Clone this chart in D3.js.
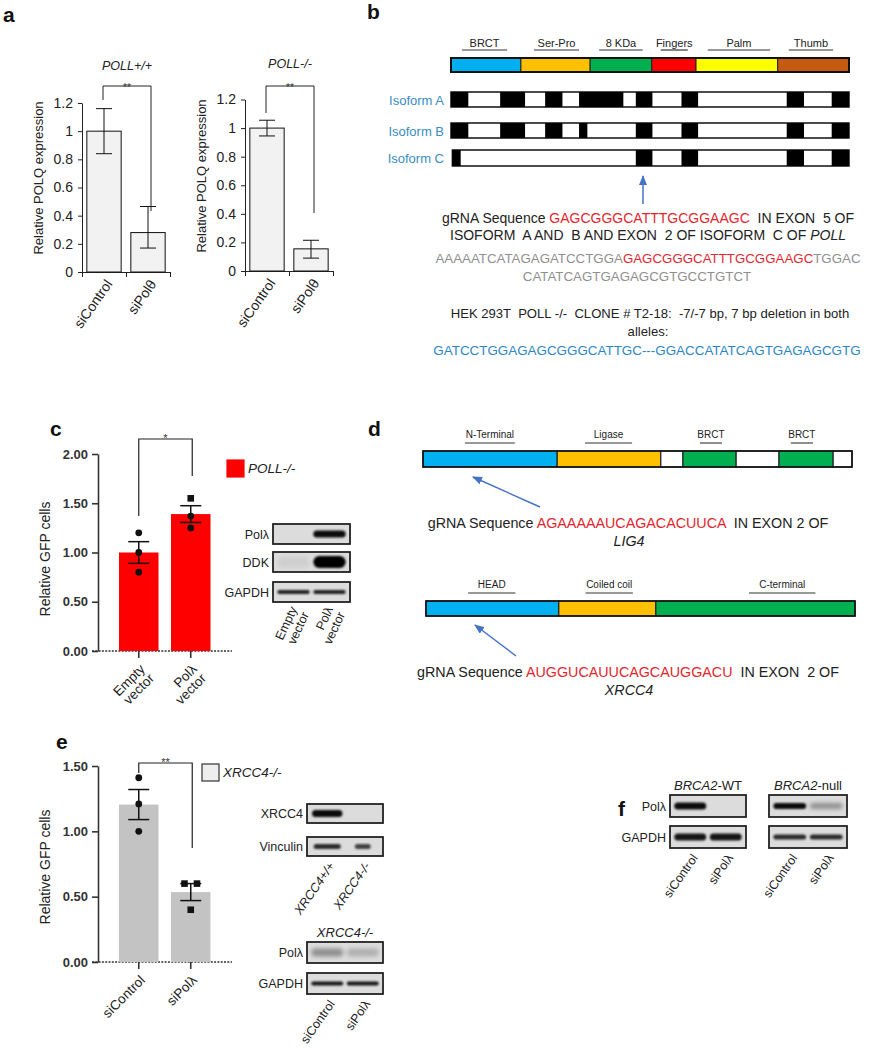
<!DOCTYPE html>
<html><head><meta charset="utf-8">
<script src="https://cdn.jsdelivr.net/npm/d3@7"></script>
<style>body{margin:0;background:#fff}</style>
</head><body>
<script>
// ================= DATA =================
// Panel a
const aCategories = ["siControl", "siPolθ"];
const aTicks = [0, 0.2, 0.4, 0.6, 0.8, 1, 1.2];
const aTitles = ["POLL+/+", "POLL-/-"];
const aLeftMeans = [1.0, 0.28];
const aLeftLow = [0.84, 0.17];
const aLeftHigh = [1.16, 0.465];
const aRightMeans = [1.0, 0.155];
const aRightLow = [0.945, 0.09];
const aRightHigh = [1.055, 0.215];

// Panel b (Pol lambda, 575 aa)
const polDomainNames = ["BRCT", "Ser-Pro", "8 KDa", "Fingers", "Palm", "Thumb"];
const polDomainBounds = [0, 101, 201, 290, 354, 472, 575];
const polDomainColors = ["#00b0f0", "#ffc000", "#00b050", "#ff0000", "#ffff00", "#c55a11"];
const polLabelSpans = [[16, 81], [120, 185], [214, 277], [303, 342], [371, 461], [488, 552]];
const isoformNames = ["Isoform A", "Isoform B", "Isoform C"];
const isoformStarts = [0, 0, 2];
const isoAExons = [[0, 25], [71, 107], [136, 161], [185, 249], [267, 291], [333, 357], [485, 510], [550, 575]];
const isoBExons = [[0, 25], [71, 107], [136, 161], [185, 197], [267, 291], [333, 357], [485, 510], [550, 575]];
const isoCExons = [[2, 14], [267, 291], [333, 357], [485, 510], [550, 575]];
const bLine1 = ["gRNA Sequence ", "GAGCGGGCATTTGCGGAAGC", "  IN EXON  5 OF"];
const bLine2 = ["ISOFORM  A AND  B AND EXON  2 OF ISOFORM  C OF ", "POLL"];
const bLine3 = ["AAAAATCATAGAGATCCTGGA", "GAGCGGGCATTTGCGGAAGC", "TGGAC"];
const bLine4 = "CATATCAGTGAGAGCGTGCCTGTCT";
const bLine5 = "HEK 293T  POLL -/-  CLONE # T2-18:  -7/-7 bp, 7 bp deletion in both";
const bLine6 = "alleles:";
const bLine7 = "GATCCTGGAGAGCGGGCATTGC---GGACCATATCAGTGAGAGCGTG";

// Panel c
const cCategories = ["Empty vector", "Polλ vector"];
const cTicks = [0, 0.5, 1, 1.5, 2];
const cMeans = [1.00, 1.39];
const cSem = [0.11, 0.085];
const cPoints = [[1.20, 1.00, 0.80], [1.55, 1.37, 1.25]];
const cShapes = [["circle", "circle", "circle"], ["square", "circle", "circle"]];
const cLegend = "POLL-/-";
const cBlotRows = ["Polλ", "DDK", "GAPDH"];
const cBlotIntensity = [[0.0, 0.95], [0.05, 1.0], [0.85, 0.85]];

// Panel d
const lig4Bounds = [0, 285, 505, 552, 665, 756, 871, 911];
const lig4Colors = ["#00b0f0", "#ffc000", "#ffffff", "#00b050", "#ffffff", "#00b050", "#ffffff"];
const lig4LabelNames = ["N-Terminal", "Ligase", "BRCT", "BRCT"];
const lig4LabelSpans = [[89, 195], [344, 444], [588, 635], [781, 828]];
const xrcc4Bounds = [0, 104, 180, 336];
const xrcc4Colors = ["#00b0f0", "#ffc000", "#00b050"];
const xrcc4LabelNames = ["HEAD", "Coiled coil", "C-terminal"];
const xrcc4LabelSpans = [[33, 70], [125, 162], [253, 305]];
const dLig4Text = ["gRNA Sequence ", "AGAAAAAUCAGACACUUCA", "  IN EXON 2 OF", "LIG4"];
const dXrcc4Text = ["gRNA Sequence ", "AUGGUCAUUCAGCAUGGACU", "  IN EXON  2 OF", "XRCC4"];

// Panel e
const eCategories = ["siControl", "siPolλ"];
const eTicks = [0, 0.5, 1, 1.5];
const eMeans = [1.205, 0.535];
const eSem = [0.115, 0.065];
const ePoints = [[1.41, 1.21, 1.00], [0.60, 0.60, 0.40]];
const eShapes = [["circle", "circle", "circle"], ["square", "square", "square"]];
const eLegend = "XRCC4-/-";
const eBlot1Rows = ["XRCC4", "Vinculin"];
const eBlot1Lanes = ["XRCC4+/+", "XRCC4-/-"];
const eBlot1Intensity = [[0.95, 0.0], [0.8, 0.7]];
const eBlot2Rows = ["Polλ", "GAPDH"];
const eBlot2Lanes = ["siControl", "siPolλ"];
const eBlot2Intensity = [[0.35, 0.2], [0.9, 0.9]];

// Panel f
const fGroups = ["WT", "null"];
const fRows = ["Polλ", "GAPDH"];
const fLanes = ["siControl", "siPolλ"];
const fIntensity = [
  [[0.95, 0.0], [0.9, 0.9]],
  [[0.95, 0.35], [0.8, 0.8]]
];

// ================= DRAW =================
const FONT = "'Liberation Sans', Arial, Helvetica, sans-serif";
const svg = d3.select("body").append("svg").attr("width", 877).attr("height", 1050)
  .style("font-family", FONT).style("background", "#fff");
const defs = svg.append("defs");
defs.append("filter").attr("id", "blur").attr("x", "-50%").attr("y", "-200%").attr("width", "200%").attr("height", "500%")
  .append("feGaussianBlur").attr("stdDeviation", 1.1);
defs.append("filter").attr("id", "blur2").attr("x", "-50%").attr("y", "-200%").attr("width", "200%").attr("height", "500%")
  .append("feGaussianBlur").attr("stdDeviation", 2);
defs.append("marker").attr("id", "arr").attr("viewBox", "0 0 10 8").attr("refX", 9).attr("refY", 4)
  .attr("markerWidth", 10).attr("markerHeight", 8).attr("markerUnits", "userSpaceOnUse").attr("orient", "auto")
  .append("path").attr("d", "M0,0L10,4L0,8z").attr("fill", "#4472c4");

function panelLabel(t, x, y) {
  svg.append("text").attr("x", x).attr("y", y).attr("font-size", 21).attr("font-weight", "bold").attr("fill", "#111").text(t);
}
panelLabel("a", 3, 22); panelLabel("b", 367, 19); panelLabel("c", 50, 436);
panelLabel("d", 368, 436); panelLabel("e", 56, 749); panelLabel("f", 618, 816);

// ---------- Panel a ----------
function panelA(cfg) {
  const g = svg.append("g");
  const y = d3.scaleLinear().domain([0, 1.2]).range([cfg.yb, cfg.yt]);
  const x = d3.scaleBand().domain(aCategories).range([cfg.xl, cfg.xr]).paddingInner(0.22).paddingOuter(0.11);
  g.append("g").attr("transform", `translate(${cfg.xl},0)`)
    .call(d3.axisLeft(y).tickValues(aTicks).tickSize(4).tickSizeOuter(0).tickPadding(5).tickFormat(d => String(+d.toFixed(1))))
    .call(s => { s.selectAll("text").attr("font-size", 14).attr("fill", "#222").style("font-family", FONT);
      s.selectAll("line,path").attr("stroke", "#222"); });
  g.append("g").attr("transform", `translate(0,${cfg.yb})`)
    .call(d3.axisBottom(d3.scaleLinear().domain([0, 2]).range([cfg.xl, cfg.xr])).tickValues([0, 1, 2]).tickSize(5).tickSizeOuter(0).tickFormat(""))
    .call(s => s.selectAll("line,path").attr("stroke", "#222"));
  g.selectAll("rect.bar").data(cfg.means).join("rect").attr("class", "bar")
    .attr("x", (d, i) => x(aCategories[i])).attr("width", x.bandwidth())
    .attr("y", d => y(d)).attr("height", d => y(0) - y(d))
    .attr("fill", "#f2f2f2").attr("stroke", "#111").attr("stroke-width", 1);
  cfg.means.forEach((m, i) => {
    const cx = x(aCategories[i]) + x.bandwidth() / 2;
    g.append("line").attr("x1", cx).attr("x2", cx).attr("y1", y(cfg.high[i])).attr("y2", y(cfg.low[i])).attr("stroke", "#111");
    [cfg.high[i], cfg.low[i]].forEach(v => g.append("line").attr("x1", cx - 8).attr("x2", cx + 8).attr("y1", y(v)).attr("y2", y(v)).attr("stroke", "#111"));
    g.append("text").attr("transform", `translate(${cx + 9},${cfg.yb + 12}) rotate(-55)`)
      .attr("text-anchor", "end").attr("font-size", 14).attr("fill", "#222").text(aCategories[i]);
  });
  g.append("text").attr("transform", `translate(${cfg.ylx},${cfg.ylc}) rotate(-90)`)
    .attr("text-anchor", "middle").attr("font-size", 13).attr("fill", "#222").text("Relative POLQ expression");
  const c1 = x(aCategories[0]) + x.bandwidth() / 2 - 1, c2 = x(aCategories[1]) + x.bandwidth() / 2 + 3;
  g.append("path").attr("d", `M${c1},${cfg.br[1]}V${cfg.br[0]}H${c2}V${cfg.br[2]}`).attr("fill", "none").attr("stroke", "#222");
  g.append("text").attr("x", (c1 + c2) / 2).attr("y", cfg.br[0] + 5).attr("text-anchor", "middle").attr("font-size", 10).attr("fill", "#333").text("**");
  g.append("text").attr("x", (cfg.xl + cfg.xr) / 2 + 1).attr("y", cfg.ty).attr("text-anchor", "middle")
    .attr("font-size", 12.5).attr("font-style", "italic").attr("fill", "#222").text(cfg.title);
}
panelA({ xl: 82, xr: 170, yb: 272, yt: 103, means: aLeftMeans, low: aLeftLow, high: aLeftHigh, ylx: 43, ylc: 178, br: [86, 100, 211], title: aTitles[0], ty: 70 });
panelA({ xl: 245, xr: 333, yb: 271, yt: 99.5, means: aRightMeans, low: aRightLow, high: aRightHigh, ylx: 206, ylc: 176, br: [86, 113, 213], title: aTitles[1], ty: 68 });

// ---------- Panel b ----------
(function () {
  const g = svg.append("g");
  const x = d3.scaleLinear().domain([0, 575]).range([451, 849]);
  polDomainNames.forEach((n, i) => {
    const [a, b] = polLabelSpans[i];
    g.append("line").attr("x1", x(a)).attr("x2", x(b)).attr("y1", 50).attr("y2", 50).attr("stroke", "#333").attr("stroke-width", 1.2);
    g.append("text").attr("x", x((a + b) / 2)).attr("y", 47).attr("text-anchor", "middle").attr("font-size", 11).attr("fill", "#222").text(n);
  });
  g.selectAll("rect.dom").data(polDomainColors).join("rect").attr("class", "dom")
    .attr("x", (d, i) => x(polDomainBounds[i])).attr("width", (d, i) => x(polDomainBounds[i + 1]) - x(polDomainBounds[i]))
    .attr("y", 58).attr("height", 14).attr("fill", d => d).attr("stroke", "#222").attr("stroke-width", 1);
  g.append("rect").attr("x", x(0)).attr("width", x(575) - x(0)).attr("y", 58).attr("height", 14).attr("fill", "none").attr("stroke", "#111").attr("stroke-width", 2);
  const exons = [isoAExons, isoBExons, isoCExons];
  const rowsY = [92, 123, 150], rowsH = [15, 15, 16];
  isoformNames.forEach((n, i) => {
    g.append("rect").attr("x", x(isoformStarts[i])).attr("width", x(575) - x(isoformStarts[i])).attr("y", rowsY[i]).attr("height", rowsH[i])
      .attr("fill", "#fff").attr("stroke", "#111").attr("stroke-width", 1.5);
    g.selectAll(null).data(exons[i]).join("rect").attr("x", d => x(d[0])).attr("width", d => x(d[1]) - x(d[0]))
      .attr("y", rowsY[i]).attr("height", rowsH[i]).attr("fill", "#000");
    g.append("text").attr("x", 444).attr("y", rowsY[i] + rowsH[i] / 2 + 5).attr("text-anchor", "end").attr("font-size", 13).attr("fill", "#3a8cc4").text(n);
  });
  g.append("line").attr("x1", 643).attr("x2", 643).attr("y1", 204).attr("y2", 176).attr("stroke", "#4472c4").attr("stroke-width", 1.5).attr("marker-end", "url(#arr)");
  const RED = "#e3262e", GRAY = "#8f8f8f";
  function mixed(parts, colors, styles, xx, yy, anchor, fs) {
    const t = g.append("text").attr("x", xx).attr("y", yy).attr("text-anchor", anchor).attr("font-size", fs).style("white-space", "pre");
    parts.forEach((p, i) => t.append("tspan").attr("fill", colors[i]).attr("font-style", styles[i]).text(p));
  }
  mixed(bLine1, ["#222", RED, "#222"], ["normal", "normal", "normal"], 648, 223, "middle", 14);
  mixed(bLine2, ["#222", "#222"], ["normal", "italic"], 648, 240, "middle", 14);
  mixed(bLine3, [GRAY, RED, GRAY], ["normal", "normal", "normal"], 648, 263, "middle", 13.3);
  mixed([bLine4], [GRAY], ["normal"], 637, 281, "middle", 13.3);
  mixed([bLine5], ["#222"], ["normal"], 650, 318, "middle", 13.1);
  mixed([bLine6], ["#222"], ["normal"], 648, 336, "middle", 13.1);
  mixed([bLine7], ["#2c86c4"], ["normal"], 647, 355, "middle", 13.4);
})();

// ---------- GFP bar panels (c, e) ----------
function gfpPanel(cfg) {
  const g = svg.append("g");
  const y = d3.scaleLinear().domain([0, cfg.max]).range([cfg.yb, cfg.yt]);
  const x = d3.scaleBand().domain(cfg.cats).range([98, 231.5]).paddingInner(0.24).paddingOuter(0.404);
  g.append("line").attr("x1", 92).attr("x2", 232).attr("y1", cfg.yb).attr("y2", cfg.yb)
    .attr("stroke", "#333").attr("stroke-width", 1.6).attr("stroke-dasharray", "2,1.3");
  g.selectAll("rect.bar").data(cfg.means).join("rect").attr("class", "bar")
    .attr("x", (d, i) => x(cfg.cats[i])).attr("width", x.bandwidth())
    .attr("y", d => y(d)).attr("height", d => y(0) - y(d)).attr("fill", cfg.fill);
  g.append("g").attr("transform", "translate(98,0)")
    .call(d3.axisLeft(y).tickValues(cfg.ticks).tickSize(6).tickSizeOuter(0).tickPadding(4).tickFormat(d3.format(".2f")))
    .call(s => { s.selectAll("text").attr("font-size", 13).attr("font-weight", "bold").attr("fill", "#333").style("font-family", FONT);
      s.selectAll("line,path").attr("stroke", "#333").attr("stroke-width", 1.6); });
  cfg.cats.forEach((c, i) => {
    const cx = x(c) + x.bandwidth() / 2;
    g.append("line").attr("x1", cx).attr("x2", cx).attr("y1", cfg.yb).attr("y2", cfg.yb + 7).attr("stroke", "#333").attr("stroke-width", 1.6);
    const m = cfg.means[i], s = cfg.sem[i];
    g.append("line").attr("x1", cx).attr("x2", cx).attr("y1", y(m + s)).attr("y2", y(m - s)).attr("stroke", "#111").attr("stroke-width", 1.5);
    [m + s, m - s].forEach(v => g.append("line").attr("x1", cx - 10.5).attr("x2", cx + 10.5).attr("y1", y(v)).attr("y2", y(v)).attr("stroke", "#111").attr("stroke-width", 1.5));
    const pts = cfg.points[i];
    pts.forEach((v, j) => {
      const same = pts.filter(p => p === v).length;
      const k = pts.slice(0, j).filter(p => p === v).length;
      const px = cx + (same > 1 ? (k - (same - 1) / 2) * 12.5 : 0);
      if (cfg.shapes[i][j] === "square") g.append("rect").attr("x", px - 3.3).attr("y", y(v) - 3.3).attr("width", 6.6).attr("height", 6.6).attr("fill", "#111");
      else g.append("circle").attr("cx", px).attr("cy", y(v)).attr("r", 3.4).attr("fill", "#111");
    });
    const lab = g.append("text").attr("transform", `translate(${cx + 7},${cfg.yb + 19}) rotate(-45)`)
      .attr("text-anchor", "end").attr("font-size", 13.5).attr("fill", "#222");
    const words = cfg.lines ? c.split(" ") : [c];
    words.forEach((w, k) => lab.append("tspan").attr("x", 0).attr("dy", k === 0 ? 0 : 13).text(w));
  });
  g.append("text").attr("transform", `translate(50,${cfg.ylc}) rotate(-90)`)
    .attr("text-anchor", "middle").attr("font-size", 14).attr("fill", "#222").text("Relative GFP cells");
  const c1 = x.bandwidth() / 2 + x(cfg.cats[0]), c2 = x.bandwidth() / 2 + x(cfg.cats[1]) + 1.5;
  g.append("path").attr("d", `M${c1},${cfg.br[1]}V${cfg.br[0]}H${c2}V${cfg.br[2]}`).attr("fill", "none").attr("stroke", "#222").attr("stroke-width", 1.2);
  g.append("text").attr("x", (c1 + c2) / 2).attr("y", cfg.br[0] + 3).attr("text-anchor", "middle").attr("font-size", 11).attr("fill", "#333").text(cfg.star);
  g.append("rect").attr("x", cfg.lg[0]).attr("y", cfg.lg[1]).attr("width", 17).attr("height", 17)
    .attr("fill", cfg.legFill).attr("stroke", cfg.legStroke).attr("stroke-width", 1.2);
  g.append("text").attr("x", cfg.lg[0] + 21).attr("y", cfg.lg[1] + 13).attr("font-size", 13.5).attr("font-style", "italic").attr("fill", "#222").text(cfg.legend);
}
gfpPanel({ cats: cCategories, lines: true, max: 2, ticks: cTicks, yb: 651, yt: 454, ylc: 559, means: cMeans, sem: cSem, points: cPoints, shapes: cShapes,
  fill: "#ff0000", br: [439, 516, 476], star: "*", lg: [227, 460], legFill: "#ff0000", legStroke: "#ff0000", legend: cLegend });
gfpPanel({ cats: eCategories, lines: false, max: 1.5, ticks: eTicks, yb: 962, yt: 766, ylc: 867, means: eMeans, sem: eSem, points: ePoints, shapes: eShapes,
  fill: "#c3c3c3", br: [763, 773, 848], star: "**", lg: [202, 764], legFill: "#eeeeee", legStroke: "#333", legend: eLegend });

// ---------- Western blots ----------
function blot(cfg) {
  const g = svg.append("g");
  const lanes = d3.scaleBand().domain(d3.range(cfg.intensity[0].length)).range([cfg.x, cfg.x + cfg.w]).paddingInner(0.1).paddingOuter(0.12);
  cfg.rows.forEach((r, i) => {
    const y0 = cfg.ys[i];
    g.append("rect").attr("x", cfg.x).attr("y", y0).attr("width", cfg.w).attr("height", cfg.h).attr("fill", "#dcdcdc");
    cfg.intensity[i].forEach((v, j) => {
      if (v <= 0) return;
      const th = cfg.thick[i];
      const bw = lanes.bandwidth() * (cfg.widthF ? cfg.widthF[i][j] : 1);
      const bx = lanes(j) + (lanes.bandwidth() - bw) / 2;
      g.append("rect").attr("x", bx).attr("y", y0 + cfg.h / 2 - th / 2).attr("width", bw).attr("height", th)
        .attr("rx", th / 2).attr("fill", "#000").attr("opacity", v).attr("filter", v < 0.5 ? "url(#blur2)" : "url(#blur)");
    });
    g.append("rect").attr("x", cfg.x).attr("y", y0).attr("width", cfg.w).attr("height", cfg.h).attr("fill", "none").attr("stroke", "#222").attr("stroke-width", 1.8);
    if (cfg.showRowLabels !== false)
      g.append("text").attr("x", cfg.x - 4).attr("y", y0 + cfg.h / 2 + 4.5).attr("text-anchor", "end").attr("font-size", 12.5).attr("fill", "#222").text(r);
  });
  if (cfg.laneLabels) {
    const yb = cfg.ys[cfg.ys.length - 1] + cfg.h;
    cfg.laneLabels.forEach((l, j) => {
      const cx = lanes(j) + lanes.bandwidth() / 2;
      const t = g.append("text").attr("transform", `translate(${cx + cfg.lx},${yb + cfg.ly}) rotate(${cfg.rot})`)
        .attr("text-anchor", "end").attr("font-size", 12.5).attr("fill", "#222");
      if (cfg.laneItalic) {
        t.append("tspan").attr("font-style", "italic").text(l);
      } else {
        const words = cfg.split ? l.split(" ") : [l];
        words.forEach((w, k) => t.append("tspan").attr("x", 0).attr("dy", k === 0 ? 0 : 13).text(w));
      }
    });
  }
  if (cfg.header) {
    const t = g.append("text").attr("x", cfg.x + cfg.w / 2).attr("y", cfg.ys[0] - 5).attr("text-anchor", "middle").attr("font-size", 13).attr("fill", "#222");
    cfg.header.forEach((p, k) => t.append("tspan").attr("font-style", k === 0 ? "italic" : "normal").text(p));
  }
}
blot({ x: 273, w: 77, h: 20, ys: [524, 552, 582], rows: cBlotRows, intensity: cBlotIntensity, thick: [7, 12, 4],
  laneLabels: cCategories, split: true, rot: -65, lx: 4, ly: 7 });
blot({ x: 307, w: 76, h: 19, ys: [804, 837], rows: eBlot1Rows, intensity: eBlot1Intensity, thick: [7, 5], widthF: [[0.95, 1], [0.85, 0.5]],
  laneLabels: eBlot1Lanes, laneItalic: true, rot: -55, lx: 8, ly: 10 });
blot({ x: 307, w: 76, h: 21, ys: [942, 973], rows: eBlot2Rows, intensity: eBlot2Intensity, thick: [8, 4],
  laneLabels: eBlot2Lanes, rot: -55, lx: 8, ly: 10, header: ["XRCC4-/-"] });
fGroups.forEach((grp, gi) => {
  blot({ x: gi === 0 ? 670 : 769, w: gi === 0 ? 76 : 78, h: 22, ys: [795, 826], rows: fRows, intensity: fIntensity[gi], thick: gi === 0 ? [7, 7] : [6, 5],
    showRowLabels: gi === 0, laneLabels: fLanes, rot: -55, lx: 8, ly: 10, header: ["BRCA2", "-" + grp] });
});

// ---------- Panel d ----------
(function () {
  const g = svg.append("g");
  const RED = "#e3262e";
  function gene(bounds, colors, names, spans, x0, x1, yBar, h) {
    const x = d3.scaleLinear().domain([0, bounds[bounds.length - 1]]).range([x0, x1]);
    names.forEach((n, i) => {
      const [a, b] = spans[i];
      g.append("line").attr("x1", x(a)).attr("x2", x(b)).attr("y1", yBar - 8).attr("y2", yBar - 8).attr("stroke", "#333").attr("stroke-width", 1.1);
      g.append("text").attr("x", x((a + b) / 2)).attr("y", yBar - 13).attr("text-anchor", "middle").attr("font-size", 10).attr("fill", "#222").text(n);
    });
    g.selectAll(null).data(colors).join("rect")
      .attr("x", (d, i) => x(bounds[i])).attr("width", (d, i) => x(bounds[i + 1]) - x(bounds[i]))
      .attr("y", yBar).attr("height", h).attr("fill", d => d).attr("stroke", "#222").attr("stroke-width", 1.2);
    g.append("rect").attr("x", x0).attr("width", x1 - x0).attr("y", yBar).attr("height", h).attr("fill", "none").attr("stroke", "#111").attr("stroke-width", 1.6);
  }
  gene(lig4Bounds, lig4Colors, lig4LabelNames, lig4LabelSpans, 423, 852, 451, 16);
  gene(xrcc4Bounds, xrcc4Colors, xrcc4LabelNames, xrcc4LabelSpans, 426, 855, 601, 15);
  g.append("line").attr("x1", 540).attr("y1", 507).attr("x2", 473).attr("y2", 477).attr("stroke", "#4472c4").attr("stroke-width", 1.4).attr("marker-end", "url(#arr)");
  g.append("line").attr("x1", 516).attr("y1", 656).attr("x2", 475).attr("y2", 625).attr("stroke", "#4472c4").attr("stroke-width", 1.4).attr("marker-end", "url(#arr)");
  function seqText(parts, yy) {
    const t = g.append("text").attr("x", 628).attr("y", yy).attr("text-anchor", "middle").attr("font-size", 14.3).style("white-space", "pre");
    t.append("tspan").attr("fill", "#222").text(parts[0]);
    t.append("tspan").attr("fill", RED).text(parts[1]);
    t.append("tspan").attr("fill", "#222").text(parts[2]);
    g.append("text").attr("x", 629).attr("y", yy + 18).attr("text-anchor", "middle").attr("font-size", 14.3).attr("font-style", "italic").attr("fill", "#222").text(parts[3]);
  }
  seqText(dLig4Text, 528);
  seqText(dXrcc4Text, 677);
})();
</script>
</body></html>
